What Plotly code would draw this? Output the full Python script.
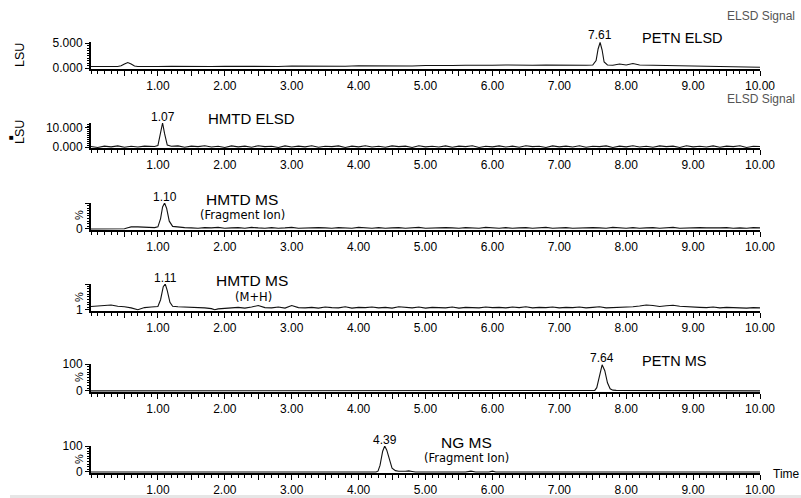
import plotly.graph_objects as go

W, H = 801, 498

# ---------------- data ----------------
# Panel 1: PETN ELSD (LSU)
petn_elsd_t = [0.00,0.10,0.20,0.30,0.40,0.45,0.50,0.55,0.60,0.65,0.70,0.80,0.90,1.00,
               1.20,1.40,1.60,1.80,2.00,2.20,2.40,2.60,2.80,3.00,3.20,3.40,3.60,3.80,4.00,
               4.20,4.40,4.60,4.80,5.00,5.20,5.40,5.60,5.80,6.00,6.20,6.40,6.60,6.80,7.00,
               7.20,7.40,7.50,7.55,7.58,7.61,7.64,7.67,7.72,7.80,7.90,8.00,8.10,8.20,8.40,
               8.60,8.80,9.00,9.20,9.40,9.60,9.80,10.00]
petn_elsd_y = [0.3,0.35,0.25,0.3,0.3,0.45,0.8,1.1,0.8,0.4,0.3,0.35,0.25,0.3,
               0.35,0.3,0.4,0.3,0.35,0.3,0.4,0.35,0.3,0.4,0.35,0.45,0.4,0.35,0.45,
               0.4,0.5,0.45,0.4,0.5,0.45,0.5,0.55,0.5,0.55,0.6,0.5,0.55,0.6,0.55,
               0.6,0.55,0.6,1.5,3.8,5.1,3.6,1.2,0.6,0.55,0.8,0.6,0.9,0.6,0.55,
               0.5,0.45,0.4,0.35,0.3,0.25,0.2,0.15]

# Panel 2: HMTD ELSD (LSU)
hmtd_elsd_t = [0.0,0.1,0.2,0.3,0.4,0.5,0.6,0.7,0.8,0.9,0.95,1.00,1.03,1.07,1.10,1.14,1.20] + \
              [round(1.3 + 0.1 * i, 2) for i in range(88)]
hmtd_elsd_y = [0.3,-0.2,0.5,0.1,0.6,-0.1,0.4,0.0,0.5,0.2,0.3,0.8,6.0,12.6,7.0,1.0,0.4,
               0.6,-0.1,0.5,0.2,0.7,0.0,0.4,-0.2,0.6,0.1,
               0.5,-0.1,0.7,0.2,0.4,-0.2,0.6,0.0,0.5,0.1,
               0.7,-0.1,0.4,0.2,0.6,-0.2,0.5,0.1,0.7,0.0,
               0.4,-0.1,0.6,0.2,0.5,-0.2,0.7,0.1,0.4,0.0,
               0.6,-0.1,0.5,0.2,0.7,-0.2,0.4,0.1,0.6,0.0,
               0.5,-0.1,0.7,0.2,0.4,-0.2,0.6,0.1,0.5,0.0,
               0.7,-0.1,0.4,0.2,0.6,-0.2,0.5,0.1,0.7,0.0,
               0.4,-0.1,0.6,0.2,0.5,-0.2,0.7,0.1,0.4,0.0,
               0.6,-0.1,0.5,0.2,0.7,-0.2,0.4,0.3]

# Panel 3: HMTD MS fragment ion (%)
hmtd_frag_t = [0.0,0.1,0.2,0.3,0.4,0.5,0.55,0.6,0.7,0.8,0.9,0.95,1.00,1.04,1.07,1.10,
               1.13,1.17,1.22,1.3,1.4] + [round(1.5 + 0.1 * i, 2) for i in range(86)]
hmtd_frag_y = [0,0,0,0,0,1,5,8,8,7,5,5,8,40,85,100,80,30,10,7,5,
               4,3,5,4,6,3,4,5,3,6, 4,3,5,3,4,6,3,4,3,5,
               4,3,5,4,3,6,4,3,5,3, 4,5,3,4,6,3,4,3,5,4,
               3,5,4,3,6,4,3,5,3,4, 5,3,4,6,3,4,5,3,4,3,
               5,4,3,6,4,3,5,3,4,5, 3,4,6,3,4,3,5,4,3,4,
               5,3,4,3,5,4]

# Panel 4: HMTD MS M+H (%)
hmtd_mh_t = [0.0,0.1,0.2,0.3,0.4,0.5,0.6,0.7,0.8,0.9,0.95,1.00,1.04,1.08,1.11,1.14,
             1.18,1.22,1.3,1.4,1.5,1.6,1.7,1.8,1.85,1.9,2.0] + \
            [round(2.1 + 0.1 * i, 2) for i in range(80)]
hmtd_mh_y = [14,15,18,20,15,13,9,2,10,12,12,14,40,90,100,75,30,15,13,12,10,11,9,6,2,5,8,
             9,11,8,12,18,10,9,12,8,18, 10,9,11,8,12,10,9,13,8,11,
             10,12,9,11,8,13,10,9,12,8, 11,10,9,12,8,11,10,9,12,10,
             11,9,12,10,13,9,11,10,12,9, 11,10,12,9,11,13,9,10,12,11,
             13,16,20,18,14,17,19,15,13,12, 11,10,12,9,11,10,9,8,10,9]

# Panel 5: PETN MS (%)
petn_ms_t = [0.0,7.50,7.53,7.56,7.60,7.64,7.68,7.72,7.76,7.80,7.85,7.95,7.98,10.0]
petn_ms_y = [0,0,2,12,60,97,75,30,8,3,2,2,0,0]

# Panel 6: NG MS fragment ion (%)
ng_ms_t = [0.0,4.26,4.29,4.32,4.36,4.39,4.42,4.46,4.50,4.55,4.60,4.70,4.75,4.80,4.85,
           5.60,5.68,5.75,5.95,6.00,6.05,10.0]
ng_ms_y = [0,0,3,25,80,100,85,45,15,5,3,3,4,2,0,0,3,0,0,3,0,0]

series = [
    (petn_elsd_t, petn_elsd_y),
    (hmtd_elsd_t, hmtd_elsd_y),
    (hmtd_frag_t, hmtd_frag_y),
    (hmtd_mh_t, hmtd_mh_y),
    (petn_ms_t, petn_ms_y),
    (ng_ms_t, ng_ms_y),
]

x_ticks = [1, 2, 3, 4, 5, 6, 7, 8, 9, 10]
x_tick_labels = ["1.00", "2.00", "3.00", "4.00", "5.00", "6.00", "7.00", "8.00", "9.00", "10.00"]

# y-axis: (range, tickvals, ticktext, minor dtick, domain top px, domain bottom px)
y_axes = [
    ([-0.2, 5.2], [0, 5], ["0.000", "5.000"], 0.5, 42, 69),
    ([-0.5, 12.6], [0, 10], ["0.000", "10.000"], 1.0, 123, 148),
    ([-4, 100], [0, 100], ["0", ""], 10, 203, 230),
    ([-3, 100], [1, 100], ["1", ""], 10, 284, 311),
    ([-4, 100], [0, 100], ["0", "100"], 10, 364, 392),
    ([-4, 100], [0, 100], ["0", "100"], 10, 446, 473),
]

FONT = "Liberation Sans, Arial, sans-serif"
FONT2 = "DejaVu Sans, Verdana, sans-serif"

fig = go.Figure()
x_dom = [91 / W, 760 / W]

for i, ((t, y), (yr, tv, tt, mdt, ptop, pbot)) in enumerate(zip(series, y_axes), start=1):
    fig.add_trace(go.Scatter(x=t, y=y, mode="lines",
                             line=dict(color="#111111", width=1.1),
                             xaxis=f"x{i}", yaxis=f"y{i}", hoverinfo="skip"))
    tvals, ttext = [], []
    for v, lab in zip(x_ticks, x_tick_labels):
        tvals += [v - 0.5, v]
        ttext += ["", lab]
    fig.layout[f"xaxis{i}"] = dict(
        domain=x_dom, range=[0, 10], anchor=f"y{i}", automargin=False,
        showline=True, linecolor="black", linewidth=2,
        ticks="outside", ticklen=5, tickwidth=1, tickcolor="black",
        tickvals=tvals, ticktext=ttext,
        tickfont=dict(family=FONT, size=12, color="black"),
        minor=dict(dtick=0.1, ticklen=3, tickwidth=1, tickcolor="black", ticks="outside", showgrid=False),
        showgrid=False, zeroline=False, fixedrange=True,
    )
    fig.layout[f"yaxis{i}"] = dict(
        domain=[1 - pbot / H, 1 - ptop / H], range=yr, anchor=f"x{i}", automargin=False,
        showline=True, linecolor="black", linewidth=2,
        ticks="outside", ticklen=4, tickwidth=1, tickcolor="black",
        tickvals=tv, ticktext=tt,
        tickfont=dict(family=FONT, size=12, color="black"),
        minor=dict(dtick=mdt, tick0=tv[0], ticklen=2, tickwidth=1, tickcolor="black", ticks="outside", showgrid=False),
        showgrid=False, zeroline=False, fixedrange=True,
    )

ann = []

def txt(text, x, y, size=12, color="black", xref="paper", xanchor="center", angle=0, family=FONT):
    xv = x if xref != "paper" else x / W
    ann.append(dict(text=text, x=xv, y=1 - y / H, xref=xref, yref="paper",
                    xanchor=xanchor, yanchor="middle", showarrow=False, textangle=angle,
                    font=dict(family=family, size=size, color=color)))

txt("ELSD Signal", 797, 16, size=12, color="#555555", xanchor="right")
txt("ELSD Signal", 797, 99, size=12, color="#555555", xanchor="right")
txt("LSU", 20, 55, size=12.5, angle=-90)
txt("LSU", 20, 132, size=12.5, angle=-90)
txt("■", 11, 137, size=8)
txt("%", 79, 215, size=11, angle=-90)
txt("%", 79, 297, size=11, angle=-90)
txt("%", 79, 377, size=11, angle=-90)
txt("%", 79, 459, size=11, angle=-90)
txt("7.61", 7.61, 35, size=12, xref="x1")
txt("1.07", 1.07, 117, size=12, xref="x2")
txt("1.10", 1.10, 197, size=12, xref="x3")
txt("1.11", 1.11, 278, size=12, xref="x4")
txt("7.64", 7.64, 358, size=12, xref="x5")
txt("4.39", 4.39, 440, size=12, xref="x6")
txt("PETN ELSD", 682, 38, size=14.5)
txt("HMTD ELSD", 251, 118, size=15)
txt("HMTD MS", 242, 199, size=15.5)
txt("(Fragment Ion)", 242, 215, size=11.5, family=FONT2)
txt("HMTD MS", 252, 280, size=15.5)
txt("(M+H)", 253, 297, size=11.5, family=FONT2)
txt("PETN MS", 674, 361, size=14.5)
txt("NG MS", 466, 442, size=15.5)
txt("(Fragment Ion)", 466, 458, size=11.5, family=FONT2)
txt("Time", 786, 474, size=12)

fig.update_layout(
    width=W, height=H, margin=dict(l=0, r=0, t=0, b=0, pad=0, autoexpand=False),
    paper_bgcolor="white", plot_bgcolor="white",
    showlegend=False, annotations=ann,
    shapes=[dict(type="rect", xref="paper", yref="paper", x0=10 / W, x1=1, y0=0, y1=3 / H,
                 fillcolor="#e6e6e6", line=dict(width=0), layer="below")],
)

fig.write_html("out.html",
               config={"responsive": False, "displayModeBar": False, "staticPlot": True},
               post_script="document.documentElement.style.margin='0';"
                           "document.body.style.margin='0';document.body.style.padding='0';"
                           "document.body.style.overflow='hidden';")
